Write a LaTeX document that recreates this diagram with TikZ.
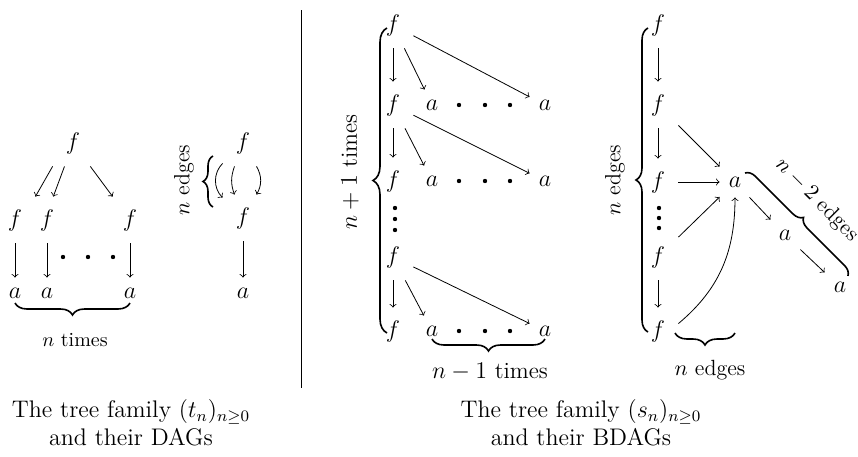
\documentclass[tikz,border=0pt]{standalone}
\usepackage{amssymb}
\usepackage{amsmath}
\usetikzlibrary{decorations.pathreplacing}

\begin{document}
\begin{tikzpicture}[
  x=0.5pt, y=-0.5pt,
  fn/.style={inner sep=0pt, minimum width=20pt, minimum height=23pt, font=\large},
  an/.style={inner sep=0pt, minimum size=15pt, font=\large},
  arr/.style={->},
  brc/.style={decorate, decoration={brace, amplitude=#1}, thick},
  brc/.default=6pt,
  lbl/.style={font=\fontsize{11}{13}\selectfont},
  lblbig/.style={font=\fontsize{11.6}{14}\selectfont},
  captxt/.style={align=center, font=\large}
]
\useasboundingbox (0,0) rectangle (858,456);

\node[fn] (tTop) at (73,143) {$f$};
\node[fn] (tF1)  at (15,220)  {$f$};
\node[fn] (tF2)  at (47,220)  {$f$};
\node[fn] (tF3)  at (130,220) {$f$};
\node[an] (tA1)  at (15,293)  {$a$};
\node[an] (tA2)  at (47,293)  {$a$};
\node[an] (tA3)  at (130,293) {$a$};
\foreach \x in {63,88,113} \fill (\x,257) circle (1.1pt);

\draw[arr] (tTop.south west) -- (tF1.north east);
\draw[arr] (tTop.250) -- (tF2.75);
\draw[arr] (tTop) -- (tF3);
\draw[arr] (tF1) -- (tA1);
\draw[arr] (tF2) -- (tA2);
\draw[arr] (tF3) -- (tA3);
\draw[brc] (130,303) -- (15,303);
\node (tTimes) at (75,340) {$n$ times};

\node[fn] (dTop) at (243,143) {$f$};
\node[fn] (dMid) at (243,218) {$f$};
\node[an] (dBot) at (243,293) {$a$};
\draw[arr] (dTop) to[out=225, in=135] (dMid);
\draw[arr] (dTop) to[out=250, in=110] (dMid);
\draw[arr] (dTop) to[out=-60, in=60] (dMid);
\draw[arr] (dMid) -- (dBot);
\draw[brc=5pt] (213,207) -- (213,156);
\node[lbl, rotate=90] (dEdges) at (184,180) {$n$ edges};

\draw (301,10) -- (301,388);

\node[fn] (sF1) at (393,25)  {$f$};
\node[fn] (sF2) at (393,105) {$f$};
\node[fn] (sF3) at (393,181) {$f$};
\node[fn] (sF4) at (393,257) {$f$};
\node[fn] (sF5) at (393,331) {$f$};
\node[an] (sA2a) at (432,105) {$a$};
\node[an] (sA2b) at (545,105) {$a$};
\node[an] (sA3a) at (432,181) {$a$};
\node[an] (sA3b) at (545,181) {$a$};
\node[an] (sA5a) at (432,331) {$a$};
\node[an] (sA5b) at (545,331) {$a$};
\foreach \y in {105,181,331}
  \foreach \x in {459,485,510} \fill (\x,\y) circle (1.1pt);
\foreach \y in {208,219,230} \fill (395,\y) circle (1.1pt);

\draw[arr] (sF1) -- (sF2);
\draw[arr] (sF1) -- (sA2a);
\draw[arr] (sF1) -- (sA2b);
\draw[arr] (sF2) -- (sF3);
\draw[arr] (sF2) -- (sA3a);
\draw[arr] (sF2) -- (sA3b);
\draw[arr] (sF4) -- (sF5);
\draw[arr] (sF4) -- (sA5a);
\draw[arr] (sF4) -- (sA5b);
\draw[brc=7pt] (387,333) -- (387,28);
\node[lblbig, rotate=90] (sTimes) at (350,172) {$n+1$ times};
\draw[brc] (545,339) -- (432,339);
\node[lblbig] (sTimesB) at (490,372) {$n-1$ times};

\node[fn] (bF1) at (658,25)  {$f$};
\node[fn] (bF2) at (658,105) {$f$};
\node[fn] (bF3) at (658,182) {$f$};
\node[fn] (bF4) at (658,257) {$f$};
\node[fn] (bF5) at (658,331) {$f$};
\node[an] (bA1) at (735,182) {$a$};
\node[an] (bA2) at (785,235) {$a$};
\node[an] (bA3) at (840,287) {$a$};
\foreach \y in {208,218,228} \fill (659,\y) circle (1.1pt);

\draw[arr] (bF1) -- (bF2);
\draw[arr] (bF2) -- (bF3);
\draw[arr] (bF4) -- (bF5);
\draw[arr] (bF2) -- (bA1);
\draw[arr] (bF3) -- (bA1);
\draw[arr] (bF4) -- (bA1);
\draw[arr] (bF5.20) to[out=40, in=-90] (bA1.south);
\draw[arr] (bA1) -- (bA2);
\draw[arr] (bA2) -- (bA3);
\draw[brc] (648,332) -- (648,28);
\node[lbl, rotate=90] (bEdges) at (615,180) {$n$ edges};
\draw[brc] (735,333) -- (675,333);
\node[lbl] (bEdgesB) at (710,370) {$n$ edges};
\draw[brc=5pt] (745,173) -- (848,276);
\node[lbl, rotate=-45] (bEdgesD) at (817,200) {$n-2$ edges};

\node[captxt] (tCap) at (131,423) {The tree family $(t_n)_{n\geq0}$\\and their DAGs};
\node[captxt] (sCap) at (581,423) {The tree family $(s_n)_{n\geq0}$\\and their BDAGs};
\end{tikzpicture}
\end{document}
